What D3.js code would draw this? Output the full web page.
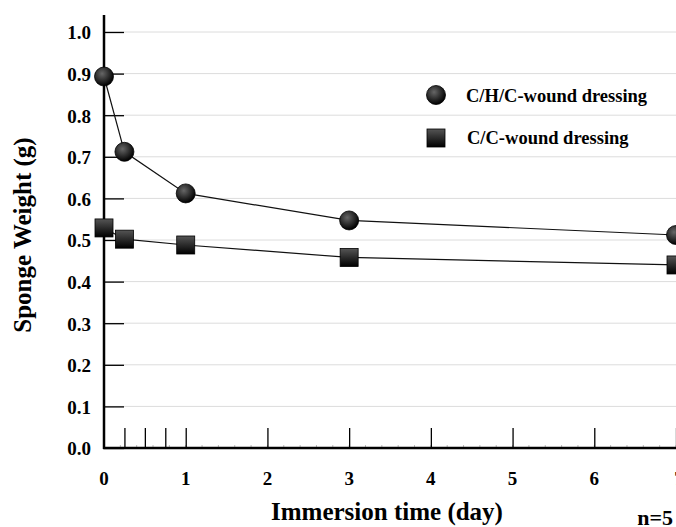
<!DOCTYPE html>
<html><head><meta charset="utf-8">
<script src="https://cdn.jsdelivr.net/npm/d3@7"></script>
<style>body{margin:0;background:#fff}text{font-family:"Liberation Serif","Times New Roman",serif;font-weight:bold}</style>
</head><body>
<svg id="c" width="676" height="527"></svg>
<script>
const days = [0, 0.25, 1, 3, 7];
const chcValues = [0.893, 0.712, 0.612, 0.547, 0.512];
const ccValues = [0.529, 0.502, 0.488, 0.458, 0.440];
const seriesNames = ["C/H/C-wound dressing", "C/C-wound dressing"];
const yTicks = [0,0.1,0.2,0.3,0.4,0.5,0.6,0.7,0.8,0.9,1.0];
const xTickLabels = [0,1,2,3,4,5,6,7];
const xMajorTicks = [0.25,0.5,0.75,1,2,3,4,5,6,7];

const svg = d3.select("#c");
const x = d3.scaleLinear().domain([0,7]).range([104,676]);
const y = d3.scaleLinear().domain([0,1]).range([448,32]);

const defs = svg.append("defs");
const rg = defs.append("radialGradient").attr("id","gc").attr("cx","40%").attr("cy","35%").attr("r","65%");
rg.append("stop").attr("offset","0%").attr("stop-color","#666");
rg.append("stop").attr("offset","100%").attr("stop-color","#000");
const lg = defs.append("linearGradient").attr("id","gs").attr("x1","0").attr("y1","0").attr("x2","0").attr("y2","1");
lg.append("stop").attr("offset","0%").attr("stop-color","#555");
lg.append("stop").attr("offset","100%").attr("stop-color","#000");

// gridlines
svg.append("g").selectAll("line").data(yTicks.slice(1)).join("line")
  .attr("x1",x(0)).attr("x2",676).attr("y1",d=>y(d)).attr("y2",d=>y(d))
  .attr("stroke","#dcdcdc").attr("stroke-width",1);

// y axis
const yAxis = d3.axisRight(y).tickValues(yTicks).tickSize(20).tickFormat(d3.format(".1f"));
const gy = svg.append("g").attr("transform",`translate(${x(0)},0)`).call(yAxis);
gy.select(".domain").remove();
gy.selectAll(".tick line").attr("stroke","#000").attr("stroke-width",1.3);
gy.selectAll(".tick text").attr("x",-13).attr("dy","0.36em").attr("text-anchor","end").attr("font-size",19).attr("fill","#000").attr("font-family","Liberation Serif").attr("font-weight","bold");

// x minor ticks
const minor = d3.range(0,7.001,0.2);
svg.append("g").selectAll("line").data(minor).join("line")
  .attr("x1",d=>x(d)).attr("x2",d=>x(d)).attr("y1",y(0)).attr("y2",y(0)-3)
  .attr("stroke","#bbb").attr("stroke-width",1);

// x axis major ticks
const xAxis = d3.axisTop(x).tickValues(xMajorTicks).tickSize(20).tickFormat("");
const gx = svg.append("g").attr("transform",`translate(0,${y(0)})`).call(xAxis);
gx.select(".domain").remove();
gx.selectAll(".tick line").attr("stroke","#000").attr("stroke-width",1.3);

// x labels
svg.append("g").selectAll("text").data(xTickLabels).join("text")
  .attr("x",d=>x(d)+(d===7?3:0)).attr("y",485).attr("text-anchor","middle").attr("font-size",19).text(d=>d);

// axis lines
svg.append("line").attr("x1",x(0)).attr("x2",x(0)).attr("y1",15).attr("y2",y(0)+1).attr("stroke","#000").attr("stroke-width",2.5);
svg.append("line").attr("x1",x(0)-1).attr("x2",676).attr("y1",y(0)).attr("y2",y(0)).attr("stroke","#000").attr("stroke-width",2.5);
svg.append("line").attr("x1",x(0)-5).attr("x2",x(0)).attr("y1",y(0.91)).attr("y2",y(0.91)).attr("stroke","#000").attr("stroke-width",1);

// lines
const line = d3.line().x(d=>x(d[0])).y(d=>y(d[1]));
const chc = days.map((d,i)=>[d,chcValues[i]]);
const cc = days.map((d,i)=>[d,ccValues[i]]);
svg.append("path").datum(chc).attr("d",line).attr("fill","none").attr("stroke","#111").attr("stroke-width",1.2);
svg.append("path").datum(cc).attr("d",line).attr("fill","none").attr("stroke","#111").attr("stroke-width",1.2);

// markers
svg.append("g").selectAll("circle").data(chc).join("circle")
  .attr("cx",d=>x(d[0])).attr("cy",d=>y(d[1])).attr("r",9.5).attr("fill","url(#gc)").attr("stroke","#000").attr("stroke-width",0.8);
svg.append("g").selectAll("rect").data(cc).join("rect")
  .attr("x",d=>x(d[0])-9).attr("y",d=>y(d[1])-9).attr("width",18).attr("height",18).attr("fill","url(#gs)").attr("stroke","#000").attr("stroke-width",0.8);

// legend
svg.append("circle").attr("cx",436).attr("cy",95).attr("r",9.5).attr("fill","url(#gc)").attr("stroke","#000").attr("stroke-width",0.8);
svg.append("text").attr("x",466).attr("y",102).attr("font-size",18.5).text(seriesNames[0]);
svg.append("rect").attr("x",427).attr("y",129).attr("width",18).attr("height",18).attr("fill","url(#gs)").attr("stroke","#000").attr("stroke-width",0.8);
svg.append("text").attr("x",467).attr("y",144).attr("font-size",18.5).text(seriesNames[1]);

// axis titles
svg.append("text").attr("transform","translate(31,235) rotate(-90)").attr("text-anchor","middle").attr("font-size",25).text("Sponge Weight (g)");
svg.append("text").attr("x",387).attr("y",520).attr("text-anchor","middle").attr("font-size",25).text("Immersion time (day)");
svg.append("text").attr("x",673).attr("y",525).attr("text-anchor","end").attr("font-size",22).text("n=5");
</script>
</body></html>
